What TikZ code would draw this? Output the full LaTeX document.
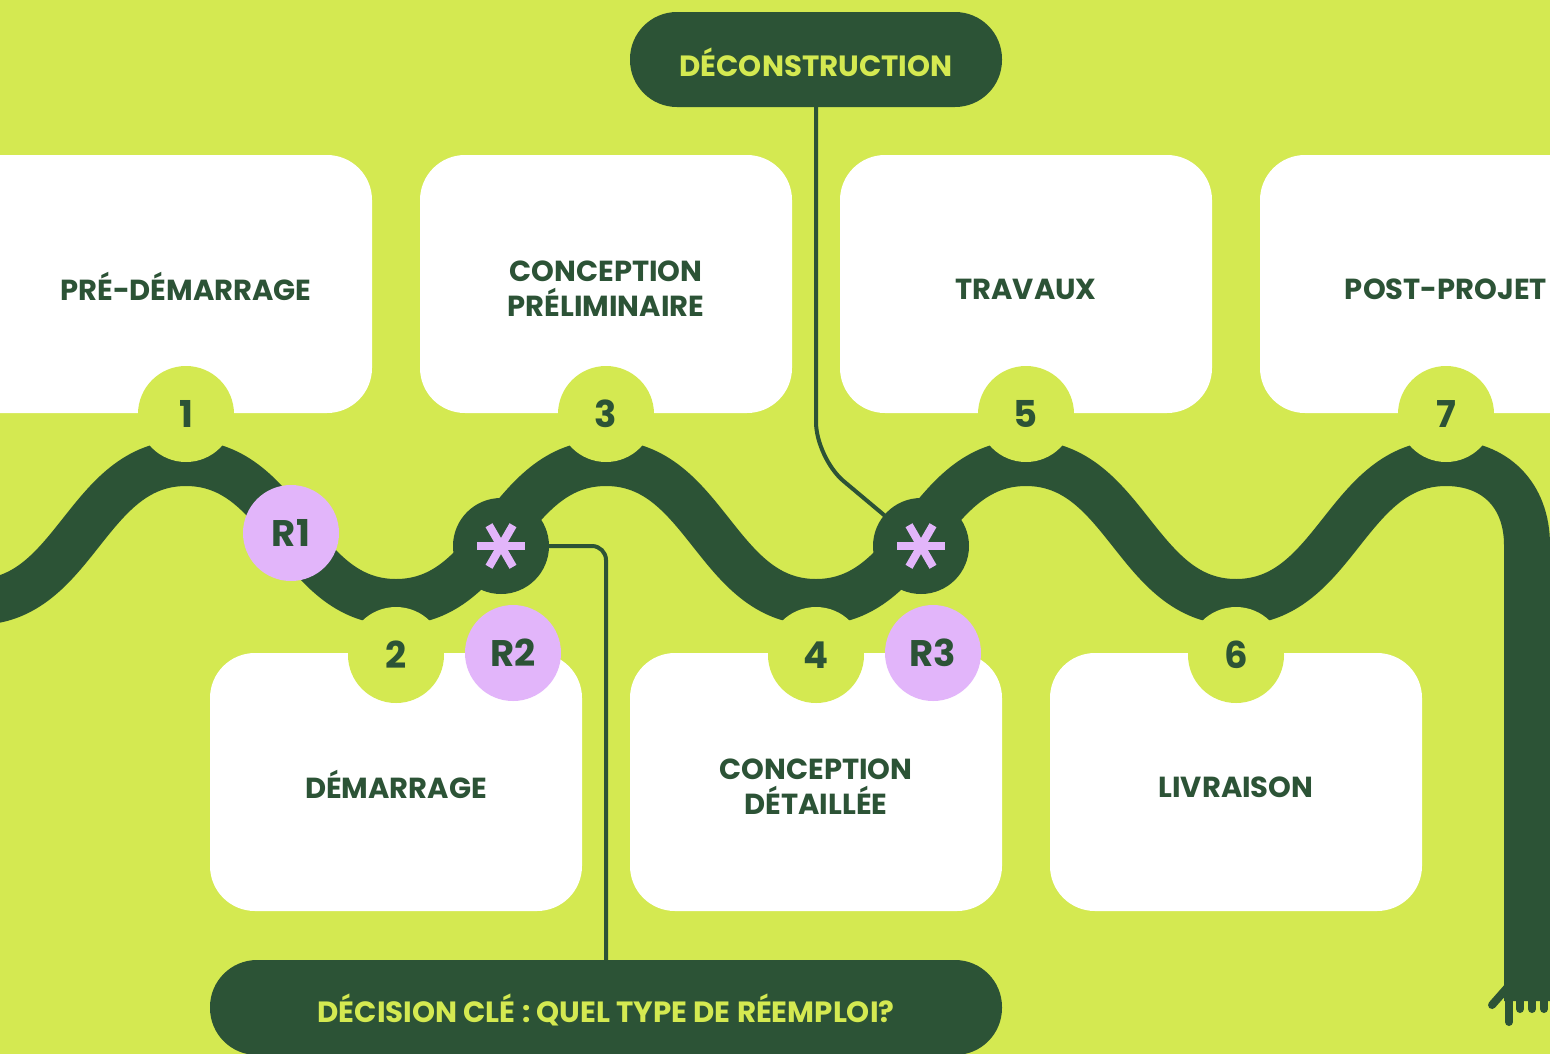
\documentclass[tikz,border=0pt]{standalone}
\usepackage{fontspec}
\newfontfamily\pop{Poppins}
\definecolor{lime}{RGB}{212,233,81}
\definecolor{dkgreen}{RGB}{44,83,54}
\definecolor{lilac}{RGB}{226,181,250}
\begin{document}
\begin{tikzpicture}[x=1pt,y=-1pt,
  box/.style={fill=white, rounded corners=45pt, minimum width=372pt, minimum height=258pt, inner sep=0pt},
  lbl/.style={text=dkgreen, align=center, font=\pop\bfseries\fontsize{29}{35}\selectfont},
  num/.style={circle, fill=lime, minimum size=96pt, inner sep=0pt, text=dkgreen, font=\pop\bfseries\fontsize{37}{40}\selectfont},
  rc/.style={circle, fill=lilac, minimum size=96pt, inner sep=0pt, text=dkgreen, font=\pop\bfseries\fontsize{37}{40}\selectfont},
  ast/.style={circle, fill=dkgreen, minimum size=96pt, inner sep=0pt},
  pill/.style={fill=dkgreen, rounded corners=47pt, minimum height=95pt, inner sep=0pt},
  pilltxt/.style={text=lime, inner sep=0pt, font=\pop\bfseries\fontsize{29.3}{34}\selectfont},
  conn/.style={draw=dkgreen, line width=4pt},
  wave/.style={draw=dkgreen, line width=46pt},
]
\useasboundingbox (0,0) rectangle (1550,1053);
\clip (0,0) rectangle (1550,1053);
\fill[lime] (-5,-5) rectangle (1555,1058);

% boxes
\node[box, minimum width=472pt] (b1) at (136,284) {};
\node[box] (b3) at (606,284) {};
\node[box] (b5) at (1026,284) {};
\node[box] (b7) at (1446,284) {};
\node[box] (b2) at (396,782) {};
\node[box] (b4) at (816,782) {};
\node[box] (b6) at (1236,782) {};

\node[lbl] (t1) at (186,286) {PRÉ-DÉMARRAGE};
\node[lbl] (t3) at (606,289) {CONCEPTION\\PRÉLIMINAIRE};
\node[lbl] (t5) at (1026,289) {TRAVAUX};
\node[lbl] (t7) at (1446,289) {POST-PROJET};
\node[lbl] (t2) at (396,784) {DÉMARRAGE};
\node[lbl] (t4) at (816,787) {CONCEPTION\\DÉTAILLÉE};
\node[lbl] (t6) at (1236,787) {LIVRAISON};

% pills
\node[pill, minimum width=372pt] (decon) at (816,59.5) {};
\node[pilltxt] (decontxt) at (816,62) {DÉCONSTRUCTION};
\node[pill, minimum width=792pt] (decision) at (606,1007.5) {};
\node[pilltxt] (decisiontxt) at (606,1010) {DÉCISION CLÉ : QUEL TYPE DE RÉEMPLOI?};

% asterisk positions
\coordinate (a1c) at (501,546);
\coordinate (a2c) at (921,546);
\coordinate (k1) at (606,546);
\coordinate (k2) at (816,458);

% connectors
\draw[conn, rounded corners=14pt] (a1c) -- (k1) -- (k1 |- decision.north);
\draw[conn, rounded corners=36pt] (decon.south) -- (k2) -- (a2c);

% wave
\draw[wave] (-60,602) -- (-24,602)
  .. controls (76,602) and (86,463) .. (186,463)
  .. controls (286,463) and (296,602) .. (396,602)
  .. controls (496,602) and (506,463) .. (606,463)
  .. controls (706,463) and (716,602) .. (816,602)
  .. controls (916,602) and (926,463) .. (1026,463)
  .. controls (1126,463) and (1136,602) .. (1236,602)
  .. controls (1336,602) and (1346,463) .. (1446,463)
  .. controls (1495,463) and (1527,495) .. (1527,545)
  -- (1527,1001);
% drips
\draw[dkgreen, line width=8pt, line cap=round] (1507,988) -- (1492,1005);
\draw[dkgreen, line width=8pt, line cap=round] (1509,996) -- (1509,1022);
\foreach \xx in {1520,1532,1544}
  \draw[dkgreen, line width=8pt, line cap=round] (\xx,998) -- (\xx,1009);

% number circles
\node[num] (n1) at (186,414) {1};
\node[num] (n2) at (396,655) {2};
\node[num] (n3) at (606,414) {3};
\node[num] (n4) at (816,655) {4};
\node[num] (n5) at (1026,414) {5};
\node[num] (n6) at (1236,655) {6};
\node[num] (n7) at (1446,414) {7};

% R circles
\node[rc] (r1) at (291,533) {R1};
\node[rc] (r2) at (513,653) {R2};
\node[rc] (r3) at (933,653) {R3};

% asterisk circles
\node[ast] (a1) at (a1c) {};
\node[ast] (a2) at (a2c) {};
\foreach \n in {a1,a2}
  \foreach \ang in {0,60,120}
    \draw[lilac, line width=8pt] (\n.center) ++(\ang:24) -- ++(\ang+180:48);
\end{tikzpicture}
\end{document}
